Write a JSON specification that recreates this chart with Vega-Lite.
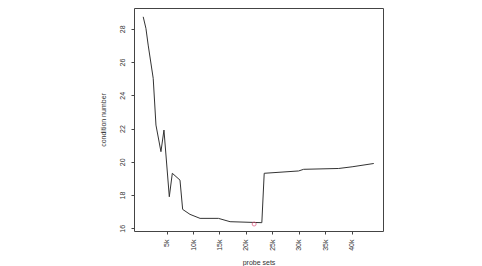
{
  "$schema": "https://vega.github.io/schema/vega-lite/v6.json",
  "width": 249,
  "height": 223,
  "autosize": {"type": "none"},
  "padding": {"left": 134, "top": 8, "right": 99, "bottom": 35},
  "background": "white",
  "config": {
    "view": {"stroke": "#444444", "strokeWidth": 1},
    "font": "Liberation Sans",
    "axis": {
      "domain": false,
      "grid": false,
      "ticks": true,
      "tickSize": 3,
      "tickColor": "#444444",
      "labelColor": "#333333",
      "titleColor": "#333333",
      "labelFontSize": 7,
      "titleFontSize": 7,
      "titleFontWeight": "normal",
      "labelFont": "Liberation Sans",
      "titleFont": "Liberation Sans",
      "labelOverlap": false,
      "labelBound": false,
      "labelFlush": false
    }
  },
  "datasets": {
    "series": [
      {"probes": 590, "cond": 28.72},
      {"probes": 1100, "cond": 28.03},
      {"probes": 1530, "cond": 27.02},
      {"probes": 2480, "cond": 25.02},
      {"probes": 3000, "cond": 22.21},
      {"probes": 3940, "cond": 20.61},
      {"probes": 4510, "cond": 21.91},
      {"probes": 5520, "cond": 17.9},
      {"probes": 6090, "cond": 19.31},
      {"probes": 7540, "cond": 18.9},
      {"probes": 8040, "cond": 17.14},
      {"probes": 9430, "cond": 16.84},
      {"probes": 11330, "cond": 16.6},
      {"probes": 14800, "cond": 16.6},
      {"probes": 17000, "cond": 16.4},
      {"probes": 23000, "cond": 16.34},
      {"probes": 23450, "cond": 19.31},
      {"probes": 29950, "cond": 19.45},
      {"probes": 30900, "cond": 19.55},
      {"probes": 37520, "cond": 19.6},
      {"probes": 40050, "cond": 19.7},
      {"probes": 44150, "cond": 19.9}
    ],
    "best": [
      {"probes": 21550, "cond": 16.26}
    ]
  },
  "encoding": {
    "x": {
      "field": "probes",
      "type": "quantitative",
      "scale": {"domain": [-1150, 45890], "nice": false, "zero": false},
      "axis": {
        "title": "probe sets",
        "values": [5000, 10000, 15000, 20000, 25000, 30000, 35000, 40000],
        "tickCount": 8,
        "labelExpr": "datum.value / 1000 + 'k'",
        "labelAngle": -90,
        "labelAlign": "right",
        "labelBaseline": "middle",
        "labelPadding": 5,
        "titleX": 124.5,
        "titleY": 31,
        "titleAlign": "center",
        "titleBaseline": "middle"
      }
    },
    "y": {
      "field": "cond",
      "type": "quantitative",
      "scale": {"domain": [15.84, 29.25], "nice": false, "zero": false},
      "axis": {
        "title": "condition number",
        "values": [16, 18, 20, 22, 24, 26, 28],
        "tickCount": 7,
        "labelAngle": -90,
        "labelAlign": "center",
        "labelBaseline": "bottom",
        "labelPadding": 6,
        "titleAngle": -90,
        "titleX": -31,
        "titleY": 111.5,
        "titleAlign": "center",
        "titleBaseline": "middle"
      }
    }
  },
  "layer": [
    {
      "data": {"name": "series"},
      "mark": {"type": "line", "color": "#333333", "strokeWidth": 1}
    },
    {
      "data": {"name": "best"},
      "mark": {"type": "point", "shape": "circle", "filled": false, "color": "#e0507a", "size": 16, "strokeWidth": 1}
    }
  ]
}
